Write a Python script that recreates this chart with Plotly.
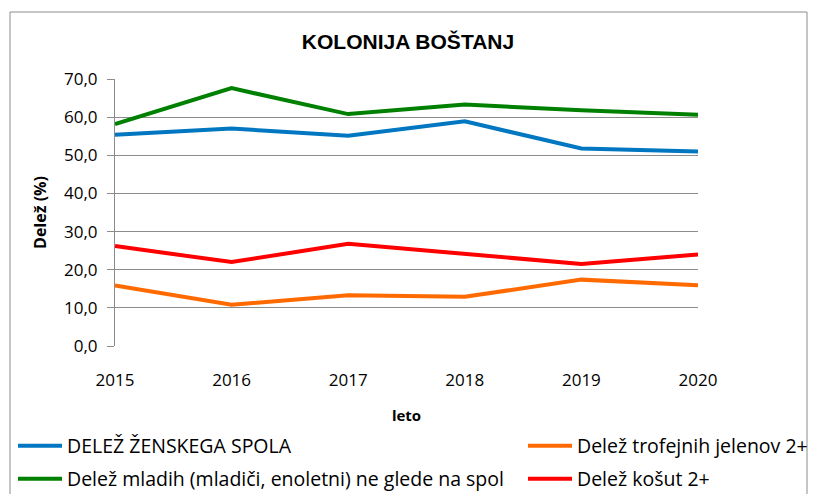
import plotly.graph_objects as go

# data
years = [2015, 2016, 2017, 2018, 2019, 2020]
female_share = [55.4, 57.0, 55.1, 58.9, 51.8, 51.0]
trophy_share = [15.9, 10.8, 13.3, 12.9, 17.4, 15.9]
young_share = [58.2, 67.6, 60.8, 63.3, 61.8, 60.6]
hind_share = [26.2, 22.0, 26.8, 24.1, 21.5, 24.0]

names = ["DELEŽ ŽENSKEGA SPOLA",
         "Delež trofejnih jelenov 2+ in starejših",
         "Delež mladih (mladiči, enoletni) ne glede na spol",
         "Delež košut 2+"]
colors = ["#0077C0", "#FF6A00", "#008000", "#FF0000"]
series = [female_share, trophy_share, young_share, hind_share]

# the page puts the figure 8px in from the window corner
OFF = 8
W, H = 821, 494
L, T = 115 - OFF, 79 - OFF
R, B = W - (698 - OFF), H - (346 - OFF)
pw, ph = W - L - R, H - T - B


def px_x(x):
    return (x - OFF - L) / pw


def px_y(y):
    return (H - B - (y - OFF)) / ph


fig = go.Figure()
legend_ids = ["legend", "legend2", "legend3", "legend4"]
for nm, c, ys, lg in zip(names, colors, series, legend_ids):
    fig.add_trace(go.Scatter(x=years, y=ys, name=nm, mode="lines",
                             line=dict(color=c, width=4), legend=lg))

font = "Open Sans, sans-serif"
leg_pos = {"legend": (13, 446), "legend2": (523, 446),
           "legend3": (13, 479), "legend4": (523, 479)}
legends = {}
for lg, (lx, ly) in leg_pos.items():
    legends[lg] = dict(x=px_x(lx), y=px_y(ly), xanchor="left", yanchor="middle",
                       orientation="h", bgcolor="rgba(0,0,0,0)", itemwidth=44,
                       font=dict(family=font, size=19.5, color="#000000"))

fig.update_layout(
    width=W, height=H,
    paper_bgcolor="white", plot_bgcolor="white",
    margin=dict(l=L, r=R, t=T, b=B, autoexpand=False),
    title=dict(text="<b>KOLONIJA BOŠTANJ</b>", x=(408 - OFF) / W, xanchor="center",
               y=1 - (42 - OFF) / H, yanchor="middle",
               font=dict(family="Liberation Sans, Arial, sans-serif", size=21, color="#000000")),
    xaxis=dict(range=[2015, 2020], tickmode="array", tickvals=years,
               ticktext=[str(y) for y in years], showgrid=False, zeroline=False,
               showline=False, ticks="", ticklabelstandoff=22,
               tickfont=dict(family=font, size=17, color="#000000"),
               title=dict(text="<b>leto</b>", standoff=20,
                          font=dict(family=font, size=15, color="#000000"))),
    yaxis=dict(range=[0, 70], dtick=10, tickformat=".1f",
               showgrid=True, gridcolor="#8C8C8C", gridwidth=1, zeroline=False,
               showline=True, linecolor="#8C8C8C", linewidth=1,
               ticks="outside", ticklen=7, tickcolor="#8C8C8C", ticklabelstandoff=6,
               tickfont=dict(family=font, size=17, color="#000000"),
               title=dict(text="<b>Delež (%)</b>", standoff=13,
                          font=dict(family=font, size=16, color="#000000"))),
    separators=", ",
    showlegend=True,
    **legends,
)

# chart border
fig.add_shape(type="rect", xref="paper", yref="paper",
              x0=px_x(10), x1=px_x(807), y0=px_y(520), y1=px_y(12),
              line=dict(color="#8C8C8C", width=1), fillcolor="rgba(0,0,0,0)", layer="below")

fig.write_html("out.html")
